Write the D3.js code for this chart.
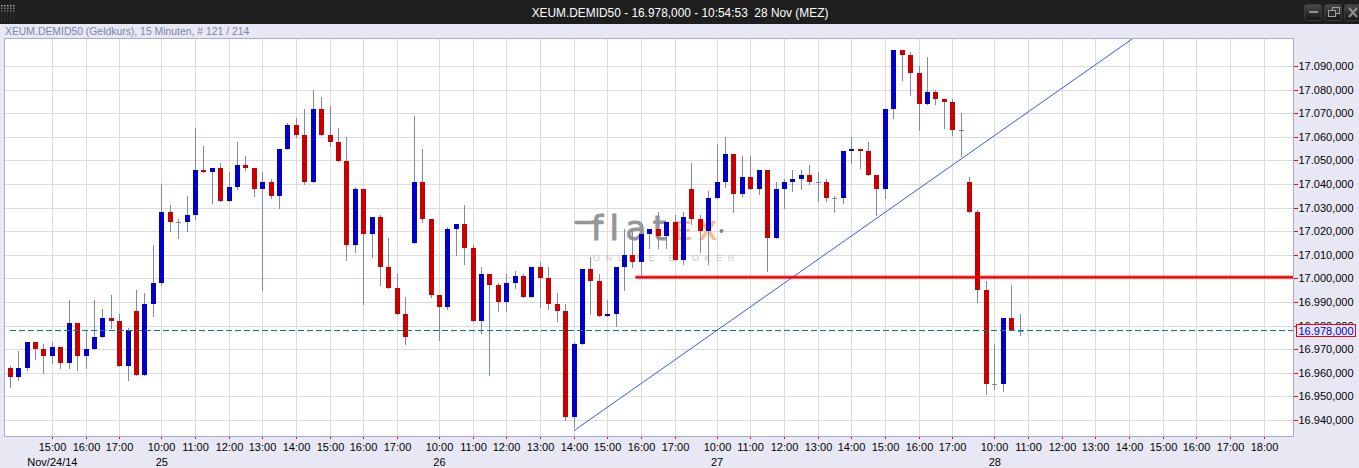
<!DOCTYPE html>
<html>
<head>
<meta charset="utf-8">
<script src="https://cdn.jsdelivr.net/npm/d3@7"></script>
<style>
  html, body { margin: 0; padding: 0; background: #e8e8f4; overflow: hidden; }
  text { font-family: "Liberation Sans", Arial, sans-serif; }
</style>
</head>
<body>
<script>
// XEUM.DEMID50, 15 min candles, one entry per bar
const opens = [16962.0,16958.2,16962.0,16973.1,16970.1,16967.1,16970.9,16964.1,16981.1,16967.1,16970.1,16975.2,16983.2,16982.0,16962.9,16986.2,16959.1,16989.2,16998.1,17028.2,
  17023.9,17023.9,17026.9,17046.0,17045.2,17046.9,17032.9,17038.8,17048.1,17046.9,17037.9,17040.9,17035.0,17054.9,17065.1,17060.8,17040.9,17071.9,17060.8,17057.9,
  17049.8,17014.2,17037.9,17018.9,17026.1,17004.9,16996.0,16984.9,17015.0,17040.9,17025.2,16993.0,16987.9,17021.0,17023.1,17012.9,16982.0,17001.9,16997.2,16990.0,
  16998.1,17001.0,16992.1,17004.9,17000.2,16989.2,16986.2,16941.3,16972.2,17004.0,16998.9,16984.1,16984.9,17004.9,17010.0,17007.0,17018.9,17021.0,17018.0,17023.9,
  17007.8,17037.9,17025.2,17020.1,17034.1,17040.9,17052.8,17035.8,17043.0,17037.9,17046.0,17017.2,17037.9,17040.9,17042.2,17043.9,17040.9,17040.9,17034.1,17034.1,
  17054.1,17054.9,17054.1,17043.9,17037.9,17071.9,17096.9,17094.8,17087.1,17074.0,17079.1,17076.1,17074.8,17063.0,17040.9,17028.2,16995.1,16955.2,16955.2,16983.2,16978.0]
const closes = [16958.2,16962.0,16973.1,16970.1,16967.1,16970.9,16964.1,16981.1,16967.1,16970.1,16975.2,16983.2,16982.0,16962.9,16978.1,16959.1,16989.2,16998.1,17028.2,17023.9,
  17023.9,17026.9,17046.0,17045.2,17046.9,17032.9,17038.8,17048.1,17046.9,17037.9,17040.9,17035.0,17054.9,17065.1,17060.8,17040.9,17071.9,17060.8,17057.9,17049.8,
  17014.2,17037.9,17018.9,17026.1,17004.9,16996.0,16984.9,16975.2,17040.9,17025.2,16993.0,16987.9,17021.0,17023.1,17012.9,16982.0,17001.9,16997.2,16990.0,16998.1,
  17001.0,16992.1,17004.9,17000.2,16989.2,16986.2,16941.3,16972.2,17004.0,16998.9,16984.1,16984.9,17004.9,17010.0,17007.0,17018.9,17021.0,17018.0,17023.9,17007.8,
  17026.1,17025.2,17020.1,17034.1,17040.9,17052.8,17035.8,17043.0,17037.9,17046.0,17017.2,17037.9,17040.9,17042.2,17043.9,17040.9,17040.9,17034.1,17034.1,17054.1,
  17054.9,17054.1,17043.9,17037.9,17071.9,17096.9,17094.8,17087.1,17074.0,17079.1,17076.1,17074.8,17063.0,17063.0,17028.2,16995.1,16955.2,16955.2,16983.2,16978.1,16978.0]
const highs = [16962.9,16969.2,16973.1,16973.1,16972.2,16973.1,16970.9,16990.9,16981.1,16978.1,16990.9,16987.1,16993.0,16984.9,16979.0,16995.1,16993.8,17014.2,17040.1,17031.2,
  17025.2,17035.0,17063.8,17056.2,17046.9,17049.0,17045.2,17057.9,17051.9,17046.9,17045.2,17042.2,17054.9,17065.9,17068.1,17071.9,17079.9,17077.0,17073.1,17063.8,
  17060.0,17038.8,17037.9,17026.1,17026.9,17017.2,17001.9,16992.1,17068.9,17054.9,17025.2,16993.0,17021.8,17023.1,17031.2,17014.2,17004.9,17001.9,16998.1,17001.9,
  17003.2,17001.9,17004.9,17007.0,17004.9,16993.8,16989.2,16973.1,17004.0,17009.1,17001.9,16990.9,17004.9,17021.0,17020.6,17018.9,17021.0,17028.2,17023.9,17026.9,
  17028.2,17049.0,17026.9,17037.1,17057.0,17060.0,17052.8,17051.9,17051.9,17046.0,17046.0,17040.9,17042.2,17046.0,17046.0,17048.1,17045.2,17042.2,17035.0,17054.1,
  17060.0,17054.9,17057.9,17043.9,17071.9,17096.9,17096.9,17096.0,17090.1,17093.9,17079.9,17076.1,17076.1,17070.2,17043.0,17029.0,16998.9,16972.2,16983.2,16997.2,16984.9]
const lows = [16953.6,16956.5,16960.8,16965.4,16959.5,16963.7,16961.6,16961.6,16960.8,16961.6,16969.7,16974.8,16978.6,16962.5,16956.5,16958.6,16958.6,16983.7,16996.8,17019.7,
  17016.7,17019.7,17024.8,17044.7,17031.6,17032.4,17032.4,17037.5,17045.6,17034.6,16994.7,17033.7,17029.5,17054.5,17059.6,17039.6,17040.5,17060.4,17055.8,17049.4,
  17007.4,17010.8,16988.7,17008.7,16996.8,16995.5,16984.5,16971.8,17014.6,17023.5,16991.7,16973.5,16986.6,17009.5,17005.7,16981.5,16976.4,16958.6,16985.8,16985.8,
  16995.5,16991.7,16991.7,16987.5,16986.6,16981.5,16939.6,16936.6,16971.8,16984.5,16983.7,16983.7,16979.4,16994.7,17004.4,17001.5,17012.5,17012.5,17012.5,17007.4,
  17005.7,17022.7,17010.8,17005.7,17033.7,17038.4,17027.8,17034.6,17037.5,17035.4,17002.7,17016.7,17029.5,17036.7,17037.5,17039.6,17032.4,17032.4,17027.8,17031.6,
  17048.5,17046.4,17043.5,17026.5,17033.7,17067.6,17083.7,17077.4,17062.5,17073.6,17073.6,17063.4,17060.4,17051.5,17027.8,16989.6,16950.6,16952.7,16951.9,16978.1,16975.6]

const priceTicks = [17090,17080,17070,17060,17050,17040,17030,17020,17010,17000,16990,16980,16970,16960,16950,16940]
// bar index of each labelled hour on the time axis
const hourBars = [5,9,13,18,22,26,30,34,38,42,46,51,55,59,63,67,71,75,79,84,88,92,96,100,104,108,112,117,121,125,129,133,137,141,145,149]
const hourLabels = ['15:00','16:00','17:00','10:00','11:00','12:00','13:00','14:00','15:00','16:00','17:00','10:00','11:00','12:00','13:00','14:00','15:00','16:00','17:00','10:00','11:00','12:00','13:00','14:00','15:00','16:00','17:00','10:00','11:00','12:00','13:00','14:00','15:00','16:00','17:00','18:00']
const dayBars = [5,18,51,84,117]
const dayLabels = ['Nov/24/14','25','26','27','28']

const lastPrice = 16978
const levelPrice = 17000.7
const levelStartBar = 74.3
const trendBars = [67,133.4]
const trendPrices = [16935.7,17101.9]

const width = 1359
const height = 468
const plotLeft = 4.5
const plotRight = 1293.5
const plotTop = 38.5
const plotBottom = 436.5
const bodyWidth = 5

const blue = '#0000c8'
const red = '#c80000'
const wickColor = '#7a8bb2'
const gridColor = '#dcdcdc'
const frameColor = '#a8abcb'

const x = d3.scaleLinear().domain([-0.69, 152.5]).range([plotLeft, plotRight])
const y = d3.scaleLinear().domain([16933.2, 17101.9]).range([plotBottom, plotTop])
const px = (v) => Math.floor(x(v)) + 0.5
const py = (v) => Math.round(y(v) - 0.3) // candle edges
const gridY = (v) => Math.floor(y(v)) + 0.5

const de = d3.formatLocale({ decimal: ',', thousands: '.', grouping: [3], currency: ['', ''] })
const fmtPrice = de.format(',.3f')

const svg = d3.select('body').append('svg')
  .attr('width', width)
  .attr('height', height)
  .style('display', 'block')

svg.append('rect').attr('width', width).attr('height', height).attr('fill', '#e8e8f4')

// title bar
const defs = svg.append('defs')
const btnGrad = defs.append('linearGradient').attr('id', 'btn').attr('x2', 0).attr('y2', 1)
btnGrad.append('stop').attr('offset', 0).attr('stop-color', '#4a4c4c')
btnGrad.append('stop').attr('offset', 1).attr('stop-color', '#151515')

svg.append('rect').attr('width', width).attr('height', 24).attr('fill', '#1e1e1e')
svg.append('text')
  .attr('x', 680).attr('y', 16.5)
  .attr('text-anchor', 'middle')
  .attr('font-size', 11.9)
  .attr('fill', '#ffffff')
  .style('white-space', 'pre')
  .text('XEUM.DEMID50 - 16.978,000 - 10:54:53  28 Nov (MEZ)')

// little dotted icon top left
const dots = svg.append('g').attr('fill', '#b9b9b9')
d3.range(3).forEach((r) => {
  d3.range(5).forEach((c) => {
    dots.append('rect')
      .attr('x', 1 + c * 3).attr('y', 5 + r * 2.6)
      .attr('width', 1.5).attr('height', 1.5)
      .attr('opacity', 0.9 - r * 0.2)
  })
})
d3.range(6).forEach((r) => {
  d3.range(5).forEach((c) => {
    dots.append('rect')
      .attr('x', 1 + c * 3).attr('y', 12 + r * 1.7)
      .attr('width', 1).attr('height', 1)
      .attr('opacity', 0.16)
  })
})

// window buttons
const btnX = [1304.5, 1324.5, 1344.5]
btnX.forEach((bx) => {
  svg.append('rect')
    .attr('x', bx).attr('y', 4.5)
    .attr('width', 17).attr('height', 16)
    .attr('rx', 2)
    .attr('fill', 'url(#btn)')
    .attr('stroke', '#3a3c3c')
})
svg.append('rect').attr('x', 1309).attr('y', 11).attr('width', 9).attr('height', 2).attr('fill', '#8f8f8f')
svg.append('rect').attr('x', 1332.5).attr('y', 7.5).attr('width', 7).attr('height', 6).attr('fill', 'none').attr('stroke', '#a0a0a0')
svg.append('rect').attr('x', 1328.5).attr('y', 10.5).attr('width', 7).attr('height', 6).attr('fill', '#2a2a2a').attr('stroke', '#a0a0a0')
svg.append('path').attr('d', 'M1349,8L1357,17M1357,8L1349,17').attr('stroke', '#8f8f8f').attr('stroke-width', 2).attr('fill', 'none')

// instrument line above the plot
svg.append('text')
  .attr('x', 5).attr('y', 35)
  .attr('font-size', 10.4)
  .attr('fill', '#7c86a8')
  .text('XEUM.DEMID50 (Geldkurs), 15 Minuten, # 121 / 214')

// plot background
svg.append('rect')
  .attr('x', plotLeft).attr('y', plotTop)
  .attr('width', plotRight - plotLeft).attr('height', plotBottom - plotTop)
  .attr('fill', '#ffffff')

// grid
const grid = svg.append('g').attr('shape-rendering', 'crispEdges').attr('stroke', gridColor)
grid.selectAll('.gx').data(hourBars).enter().append('line')
  .attr('x1', (d) => px(d)).attr('x2', (d) => px(d))
  .attr('y1', plotTop).attr('y2', plotBottom)
grid.selectAll('.gy').data(priceTicks).enter().append('line')
  .attr('x1', plotLeft).attr('x2', plotRight)
  .attr('y1', (d) => gridY(d)).attr('y2', (d) => gridY(d))

// broker watermark
const logo = svg.append('g').attr('opacity', 0.9)
logo.append('line')
  .attr('x1', 576).attr('x2', 602).attr('y1', 222.5).attr('y2', 222.5)
  .attr('stroke', '#8c8c8c').attr('stroke-width', 3.5).attr('stroke-linecap', 'round')
logo.append('text')
  .attr('x', 591).attr('y', 240)
  .attr('font-size', 34)
  .attr('fill', '#8c8c8c').attr('stroke', '#8c8c8c').attr('stroke-width', 1)
  .attr('letter-spacing', 6.5)
  .style('font-family', '"DejaVu Sans"')
  .text('flat')
logo.append('text')
  .attr('x', 674).attr('y', 240)
  .attr('font-size', 27).attr('font-weight', 'bold').attr('fill', '#fdb478')
  .attr('letter-spacing', 7)
  .text('EX')
logo.append('circle').attr('cx', 721.5).attr('cy', 231).attr('r', 2).attr('fill', '#777777')
logo.append('text')
  .attr('x', 593).attr('y', 261)
  .attr('font-size', 9).attr('fill', '#c4c4c4')
  .attr('letter-spacing', 5.6)
  .text('ONLINE BROKER')

// trend line
svg.append('line')
  .attr('x1', x(trendBars[0])).attr('y1', y(trendPrices[0]))
  .attr('x2', x(trendBars[1])).attr('y2', y(trendPrices[1]))
  .attr('stroke', '#2c5ff0').attr('stroke-width', 1)

// candles
const bars = d3.range(opens.length)
const candles = svg.append('g').attr('shape-rendering', 'crispEdges')
candles.selectAll('.wick').data(bars).enter().append('line')
  .attr('class', 'wick')
  .attr('x1', (i) => px(i)).attr('x2', (i) => px(i))
  .attr('y1', (i) => py(highs[i])).attr('y2', (i) => py(lows[i]))
  .attr('stroke', wickColor)
candles.selectAll('.body').data(bars).enter().append('rect')
  .attr('class', 'body')
  .attr('x', (i) => Math.floor(x(i)) - 2)
  .attr('y', (i) => py(Math.max(opens[i], closes[i])))
  .attr('width', bodyWidth)
  .attr('height', (i) => Math.max(1, py(Math.min(opens[i], closes[i])) - py(Math.max(opens[i], closes[i]))))
  .attr('fill', (i) => {
    if (opens[i] === closes[i]) return wickColor
    return closes[i] > opens[i] ? blue : red
  })

// horizontal level
svg.append('line')
  .attr('x1', x(levelStartBar)).attr('x2', plotRight)
  .attr('y1', y(levelPrice)).attr('y2', y(levelPrice))
  .attr('stroke', '#ff0000').attr('stroke-opacity', 0.4).attr('stroke-width', 4)
svg.append('line')
  .attr('x1', x(levelStartBar)).attr('x2', plotRight)
  .attr('y1', y(levelPrice)).attr('y2', y(levelPrice))
  .attr('stroke', '#f00000').attr('stroke-width', 2)

// last price
svg.append('line')
  .attr('x1', x(0)).attr('x2', plotRight)
  .attr('y1', gridY(lastPrice)).attr('y2', gridY(lastPrice))
  .attr('stroke', '#008088')
  .attr('stroke-dasharray', '6,3')
  .attr('shape-rendering', 'crispEdges')

// frame
svg.append('path')
  .attr('d', `M${plotLeft},${plotTop}H${plotRight}V${plotBottom}H${plotLeft}Z`)
  .attr('fill', 'none')
  .attr('stroke', frameColor)
  .attr('shape-rendering', 'crispEdges')

// axes
const hourByBar = new Map(hourBars.map((b, i) => [b, hourLabels[i]]))
const xAxis = d3.axisBottom(x)
  .tickValues(hourBars)
  .tickFormat((b) => hourByBar.get(b))
  .tickSize(2)
  .tickPadding(5)
const gx = svg.append('g')
  .attr('transform', `translate(0,${plotBottom})`)
  .call(xAxis)
gx.select('.domain').remove()
gx.selectAll('.tick').attr('transform', (b) => `translate(${px(b)},0)`)
gx.selectAll('.tick line').attr('x1', 0).attr('x2', 0).attr('stroke', '#ff0000').attr('shape-rendering', 'crispEdges')
gx.selectAll('.tick text').attr('fill', '#000000').attr('font-size', 11).attr('font-family', null)

const yAxis = d3.axisRight(y)
  .tickValues(priceTicks)
  .tickFormat(fmtPrice)
  .tickSize(4)
  .tickPadding(1)
const gy = svg.append('g')
  .attr('transform', `translate(${plotRight},0)`)
  .call(yAxis)
gy.select('.domain').remove()
gy.selectAll('.tick').attr('transform', (v) => `translate(0,${gridY(v)})`)
gy.selectAll('.tick line').attr('stroke', '#ff0000').attr('shape-rendering', 'crispEdges')
gy.selectAll('.tick text').attr('fill', '#000000').attr('font-size', 11).attr('font-family', null)

// day labels under the hours
svg.selectAll('.day').data(dayBars).enter().append('text')
  .attr('class', 'day')
  .attr('x', (b) => x(b))
  .attr('y', 466)
  .attr('text-anchor', 'middle')
  .attr('font-size', 11)
  .attr('fill', '#000000')
  .text((b, i) => dayLabels[i])

// last price box
svg.append('rect')
  .attr('x', plotRight + 2.5).attr('y', gridY(lastPrice) - 6)
  .attr('width', 59).attr('height', 12)
  .attr('fill', '#e8e8f4')
  .attr('stroke', '#ff0000')
  .attr('shape-rendering', 'crispEdges')
svg.append('text')
  .attr('x', plotRight + 5).attr('y', gridY(lastPrice) + 4)
  .attr('font-size', 11)
  .attr('fill', '#0000e0')
  .text(fmtPrice(lastPrice))
</script>
</body>
</html>
